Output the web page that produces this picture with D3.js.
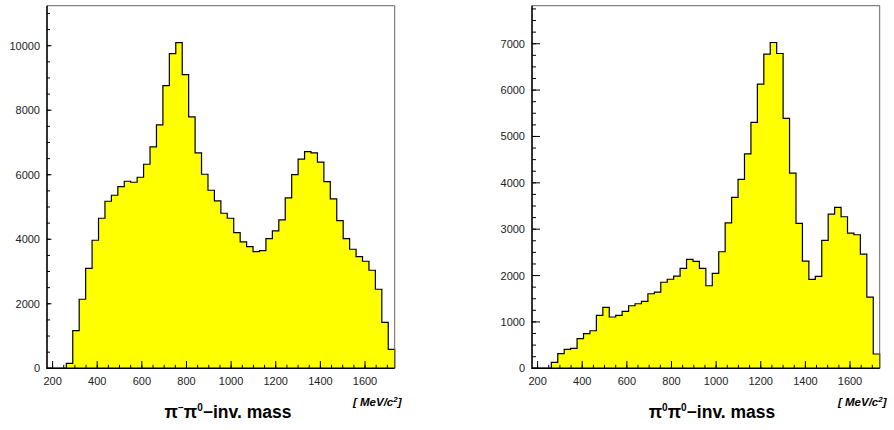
<!DOCTYPE html>
<html>
<head>
<meta charset="utf-8">
<script src="https://cdn.jsdelivr.net/npm/d3@7"></script>
<style>
  body { margin: 0; background: #fff; }
  svg { display: block; font-family: "Liberation Sans", Arial, sans-serif; }
  .tick-label { font-size: 11px; fill: #222; }
  .hist { fill: #ffff00; stroke: #000; stroke-width: 1.2; stroke-linejoin: miter; }
  .title { font-size: 17.5px; font-weight: bold; fill: #000; }
  .unit { font-size: 11.5px; font-weight: bold; font-style: italic; fill: #000; }
</style>
</head>
<body>
<svg id="chart" width="894" height="430"></svg>
<script>
// mass axis (MeV/c^2), 54 bins
const MASS_MIN = 175;
const MASS_MAX = 1733;
const N_BINS   = 54;

// pi- pi0 invariant mass, counts per bin
const countsPiMinusPi0 = [
     0,    0,    0,  155, 1166, 2140, 3100, 3969, 4651, 5178,
  5364, 5631, 5798, 5767, 5922, 6325, 6862, 7544, 8763, 9755,
 10097, 9104, 7792, 6676, 6015, 5519, 5188, 4806, 4651, 4205,
  3916, 3771, 3616, 3647, 4019, 4257, 4600, 5281, 6003, 6481,
  6716, 6676, 6388, 5786, 5250, 4578, 4019, 3690, 3461, 3318,
  3039, 2450, 1426,  589
];

// pi0 pi0 invariant mass, counts per bin
const countsPi0Pi0 = [
     0,    0,    0,  129,  315,  409,  431,  638,  746,  810,
  1142, 1315, 1106, 1142, 1228, 1349, 1392, 1444, 1608, 1644,
  1856, 1920, 1989, 2155, 2349, 2306, 2155, 1780, 2047, 2514,
  3138, 3685, 4073, 4625, 5302, 6127, 6774, 7026, 6789, 5388,
  4209, 3125, 2312, 1918, 1983, 2758, 3325, 3470, 3268, 2916,
  2880, 2463, 1537,  308
];

const massTicks     = [200, 400, 600, 800, 1000, 1200, 1400, 1600];
const countTicksL   = [0, 2000, 4000, 6000, 8000, 10000];
const countTicksR   = [0, 1000, 2000, 3000, 4000, 5000, 6000, 7000];

const panels = [
  { counts: countsPiMinusPi0, yMax: 11240, yTicks: countTicksL, yMinorStep: 500,
    left: 47, title: ['π', '−', 'π', '0', '−inv. mass'], titleX: 228, unitX: 353,
    majorLen: 4.5, minorLen: 3 },
  { counts: countsPi0Pi0, yMax: 7820, yTicks: countTicksR, yMinorStep: 250,
    left: 532, title: ['π', '0', 'π', '0', '−inv. mass'], titleX: 712, unitX: 838,
    majorLen: 8, minorLen: 4 }
];

const WIDTH  = 347.7;
const TOP    = 5.7;
const BOTTOM = 368.3;

const svg = d3.select('#chart');

function drawPanel(p) {
  const g = svg.append('g').attr('transform', `translate(${p.left},0)`);

  const x = d3.scaleLinear().domain([MASS_MIN, MASS_MAX]).range([0, WIDTH]);
  const y = d3.scaleLinear().domain([0, p.yMax]).range([BOTTOM, TOP]);

  const binW  = (MASS_MAX - MASS_MIN) / N_BINS;
  const edges = d3.range(N_BINS + 1).map(i => MASS_MIN + i * binW);

  // step outline of the histogram
  const pts = [[x(edges[0]), y(0)]];
  p.counts.forEach((c, i) => {
    pts.push([x(edges[i]), y(c)]);
    pts.push([x(edges[i + 1]), y(c)]);
  });
  pts.push([x(edges[N_BINS]), y(0)]);

  g.append('path')
    .attr('class', 'hist')
    .attr('d', d3.line()(pts));

  // frame: top / right thin grey
  g.append('path')
    .attr('d', `M0,${TOP}H${WIDTH}V${BOTTOM}`)
    .attr('fill', 'none')
    .attr('stroke', '#666')
    .attr('stroke-width', 1);

  // y axis
  const yMinor = d3.range(0, p.yMax, p.yMinorStep);
  g.selectAll('.ymin').data(yMinor).enter().append('line')
    .attr('x1', 0).attr('x2', p.minorLen)
    .attr('y1', d => y(d)).attr('y2', d => y(d))
    .attr('stroke', '#000').attr('stroke-width', 1);
  g.selectAll('.ymaj').data(p.yTicks).enter().append('line')
    .attr('x1', 0).attr('x2', p.majorLen)
    .attr('y1', d => y(d)).attr('y2', d => y(d))
    .attr('stroke', '#000').attr('stroke-width', 1);
  g.selectAll('.ylab').data(p.yTicks).enter().append('text')
    .attr('class', 'tick-label')
    .attr('x', -7).attr('y', d => y(d)).attr('dy', '0.36em')
    .attr('text-anchor', 'end')
    .text(d => d);

  // x axis
  const xMinor = d3.range(200, MASS_MAX, 50);
  g.selectAll('.xmin').data(xMinor).enter().append('line')
    .attr('x1', d => x(d)).attr('x2', d => x(d))
    .attr('y1', BOTTOM).attr('y2', BOTTOM - 3.5)
    .attr('stroke', '#000').attr('stroke-width', 1);
  g.selectAll('.xmaj').data(massTicks).enter().append('line')
    .attr('x1', d => x(d)).attr('x2', d => x(d))
    .attr('y1', BOTTOM).attr('y2', BOTTOM - 7.3)
    .attr('stroke', '#000').attr('stroke-width', 1);
  g.selectAll('.xlab').data(massTicks).enter().append('text')
    .attr('class', 'tick-label')
    .attr('x', d => x(d)).attr('y', 384.5)
    .attr('text-anchor', 'middle')
    .text(d => d);

  // axis lines
  g.append('path')
    .attr('d', `M0,${TOP}V${BOTTOM}H${WIDTH}`)
    .attr('fill', 'none')
    .attr('stroke', '#000')
    .attr('stroke-width', 1.6);

  // titles
  const t = svg.append('text')
    .attr('class', 'title')
    .attr('x', p.titleX).attr('y', 418)
    .attr('text-anchor', 'middle');
  t.append('tspan').text(p.title[0]);
  t.append('tspan').attr('dy', -7).attr('font-size', 10).text(p.title[1]);
  t.append('tspan').attr('dy', 7).text(p.title[2]);
  t.append('tspan').attr('dy', -7).attr('font-size', 10).text(p.title[3]);
  t.append('tspan').attr('dy', 7).text(p.title[4]);

  const u = svg.append('text')
    .attr('class', 'unit')
    .attr('x', p.unitX).attr('y', 406);
  u.append('tspan').text('[ MeV/c');
  u.append('tspan').attr('dy', -4).attr('font-size', 8).text('2');
  u.append('tspan').attr('dy', 4).text(']');
}

panels.forEach(drawPanel);
</script>
</body>
</html>
